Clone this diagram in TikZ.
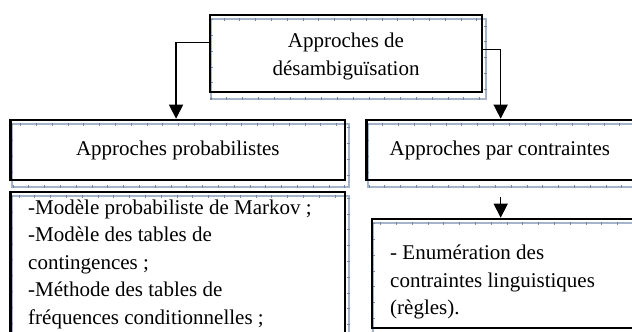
\documentclass[tikz,border=0pt]{standalone}
\usepackage{fontspec}
\setmainfont{Liberation Serif}
\usetikzlibrary{arrows.meta}
\pgfdeclarelayer{bg}
\pgfsetlayers{bg,main}
\tikzset{
  box/.style={draw=black, line width=2.6pt, inner sep=0pt, align=center,
    font=\fontsize{21}{28}\selectfont},
  shadowline/.style={draw={rgb,255:red,165;green,180;blue,200}, line width=1.8pt},
  shadowtick/.style={draw={rgb,255:red,120;green,135;blue,160}, line width=3pt, dash pattern=on 0.8pt off 15pt},
  txt/.style={inner sep=0pt, align=left, font=\fontsize{21}{27.5}\selectfont},
  ctxt/.style={inner sep=0pt, align=center, font=\fontsize{21}{28}\selectfont},
  conn/.style={line width=1.5pt, -{Triangle[length=14pt,width=14pt]}},
}
\newcommand{\boxshadow}[1]{%
  \draw[shadowline] ([shift={(2.5pt,-5.5pt)}]#1.north west) rectangle ([shift={(2.5pt,-5.5pt)}]#1.south east);
  \draw[shadowtick] ([shift={(2.5pt,-5.5pt)}]#1.north west) rectangle ([shift={(2.5pt,-5.5pt)}]#1.south east);}
\begin{document}
\begin{tikzpicture}[x=1pt,y=-1pt]
\useasboundingbox (0,0) rectangle (632,332);
\node[box, minimum width=272pt, minimum height=77pt] (top) at (346,53.5) {};
\node[ctxt] (ttop) at ([yshift=-3pt]top.center) {Approches de\\désambiguïsation};
\node[box, minimum width=334.3pt, minimum height=60pt] (probab) at (177.85,150)
  {Approches probabilistes};
\node[box, minimum width=266.3pt, minimum height=60pt] (contr) at (499.85,150)
  {Approches par contraintes};
\node[box, minimum width=334.3pt, minimum height=154pt] (box3) at (177.85,269) {};
\node[box, minimum width=261pt, minimum height=109pt] (box4) at (502.5,273.5) {};
\node[txt, anchor=north west] (t3) at (28,199.5)
  {-Modèle probabiliste de Markov ;\\-Modèle des tables de\\contingences ;\\-Méthode des tables de\\fréquences conditionnelles ;};
\node[txt, anchor=north west] (t4) at (390,244.7)
  {- Enumération des\\contraintes linguistiques\\(règles).};
\begin{pgfonlayer}{bg}
  \boxshadow{top}
  \boxshadow{probab}
  \boxshadow{contr}
  \boxshadow{box3}
  \boxshadow{box4}
\end{pgfonlayer}
\draw[conn] ([yshift=10.8pt]top.west) -| ([xshift=-1.8pt]probab.north);
\draw[conn] ([yshift=4.2pt]top.east) -| ([xshift=0.8pt]contr.north);
\coordinate (c1) at (500.7,197);
\draw[conn] (c1) -- (c1 |- box4.north);
\end{tikzpicture}
\end{document}
